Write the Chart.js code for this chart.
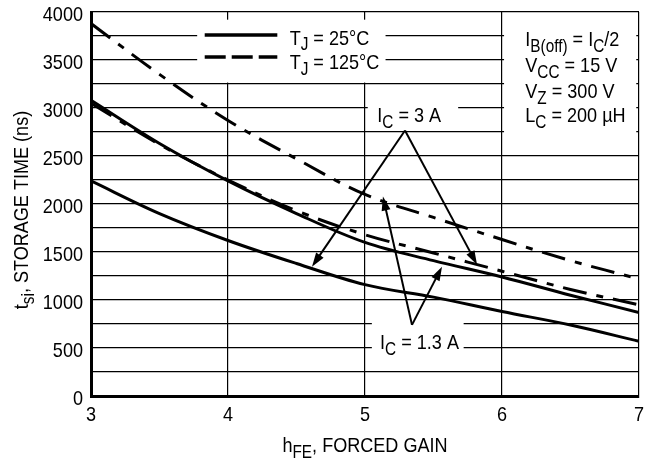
<!DOCTYPE html>
<html>
<head>
<meta charset="utf-8">
<script src="https://cdn.jsdelivr.net/npm/chart.js@4.4.1/dist/chart.umd.min.js"></script>
<style>
  body { margin: 0; background: #fff; }
  #c { display: block; }
</style>
</head>
<body>
<canvas id="c" width="658" height="462"></canvas>
<script>
// forced gain (x) and storage time in ns (y)
const gain = [3, 3.5, 4, 4.5, 5, 5.5, 6, 6.5, 7];
const ts13A125 = [3880, 3350, 2870, 2470, 2100, 1860, 1630, 1410, 1220];
const ts3A125 = [3050, 2620, 2250, 1930, 1680, 1490, 1300, 1110, 950];
const ts13A25 = [3080, 2630, 2240, 1900, 1600, 1410, 1240, 1050, 870];
const ts3A25 = [2240, 1900, 1620, 1380, 1160, 1030, 880, 740, 570];
const xTicks = [3, 4, 5, 6, 7];
const yTicks = [0, 500, 1000, 1500, 2000, 2500, 3000, 3500, 4000];

const FONT = "'Liberation Sans', Arial, sans-serif";
const FS = 21;        // font size
const SQ = 0.86;      // horizontal squeeze, the original type is a narrow face
const DASH = [24, 10, 7, 10];

function pts(ys) {
    return gain.map(function (g, i) { return { x: g, y: ys[i] }; });
}

function line(label, ys, dashed) {
    return {
        label: label,
        data: pts(ys),
        borderColor: '#000',
        borderWidth: 3,
        borderDash: dashed ? DASH : [],
        pointRadius: 0,
        tension: 0.35,
        fill: false
    };
}

// text with subscripts: parts = [[text, isSub], ...]
function rich(ctx, parts, x, y, align) {
    var w = 0;
    parts.forEach(function (p) {
        ctx.font = (p[1] ? FS * 0.85 : FS) + 'px ' + FONT;
        w += ctx.measureText(p[0]).width;
    });
    var start = 0;
    if (align === 'center') start = -w / 2;
    if (align === 'right') start = -w;
    ctx.save();
    ctx.translate(x, y);
    ctx.scale(SQ, 1);
    ctx.textAlign = 'left';
    ctx.textBaseline = 'alphabetic';
    parts.forEach(function (p) {
        ctx.font = (p[1] ? FS * 0.85 : FS) + 'px ' + FONT;
        ctx.fillText(p[0], start, p[1] ? FS * 0.27 : 0);
        start += ctx.measureText(p[0]).width;
    });
    ctx.restore();
}

function arrow(ctx, x1, y1, x2, y2) {
    var a = Math.atan2(y2 - y1, x2 - x1), L = 14, W = 4.5;
    ctx.beginPath();
    ctx.moveTo(x1, y1);
    ctx.lineTo(x2 - Math.cos(a) * L * 0.8, y2 - Math.sin(a) * L * 0.8);
    ctx.stroke();
    ctx.beginPath();
    ctx.moveTo(x2, y2);
    ctx.lineTo(x2 - Math.cos(a) * L - Math.sin(a) * W, y2 - Math.sin(a) * L + Math.cos(a) * W);
    ctx.lineTo(x2 - Math.cos(a) * L + Math.sin(a) * W, y2 - Math.sin(a) * L - Math.cos(a) * W);
    ctx.closePath();
    ctx.fill();
}

const notes = {
    id: 'notes',
    beforeDatasetsDraw: function (chart) {
        var ctx = chart.ctx, X = chart.scales.x, Y = chart.scales.y;
        var px = function (v) { return X.getPixelForValue(v); };
        var py = function (v) { return Y.getPixelForValue(v); };
        ctx.save();
        ctx.fillStyle = '#fff';
        // white boxes under legend and labels
        ctx.fillRect(px(3.775), py(3920), px(5.15) - px(3.775), py(3265) - py(3920));
        ctx.fillRect(px(6.015), py(3920), px(6.98) - px(6.015), py(2670) - py(3920));
        ctx.fillRect(px(5.02), py(3100), px(5.68) - px(5.02), py(2800) - py(3100));
        ctx.fillRect(px(5.05), py(830), px(5.72) - px(5.05), py(400) - py(830));
        ctx.restore();
    },
    afterDatasetsDraw: function (chart) {
        var ctx = chart.ctx, X = chart.scales.x, Y = chart.scales.y, a = chart.chartArea;
        var px = function (v) { return X.getPixelForValue(v); };
        var py = function (v) { return Y.getPixelForValue(v); };
        ctx.save();
        ctx.fillStyle = '#000';
        ctx.strokeStyle = '#000';

        // tick labels
        xTicks.forEach(function (t) {
            rich(ctx, [[String(t), 0]], px(t), a.bottom + 25, 'center');
        });
        yTicks.forEach(function (t) {
            rich(ctx, [[String(t), 0]], a.left - 8, py(t) + 8.5, 'right');
        });

        // legend
        ctx.lineWidth = 3.5;
        ctx.beginPath();
        ctx.moveTo(px(3.83), py(3760));
        ctx.lineTo(px(4.36), py(3760));
        ctx.stroke();
        ctx.setLineDash([21, 6]);
        ctx.beginPath();
        ctx.moveTo(px(3.83), py(3530));
        ctx.lineTo(px(4.36), py(3530));
        ctx.stroke();
        ctx.setLineDash([]);
        rich(ctx, [['T', 0], ['J', 1], [' = 25°C', 0]], px(4.45), py(3660));
        rich(ctx, [['T', 0], ['J', 1], [' = 125°C', 0]], px(4.45), py(3405));

        // test conditions
        var cx = px(6.17);
        rich(ctx, [['I', 0], ['B(off)', 1], [' = I', 0], ['C', 1], ['/2', 0]], cx, py(3645));
        rich(ctx, [['V', 0], ['CC', 1], [' = 15 V', 0]], cx, py(3375));
        rich(ctx, [['V', 0], ['Z', 1], [' = 300 V', 0]], cx, py(3105));
        rich(ctx, [['L', 0], ['C', 1], [' = 200 µH', 0]], cx, py(2850));

        // current labels
        rich(ctx, [['I', 0], ['C', 1], [' = 3 A', 0]], px(5.09), py(2850));
        rich(ctx, [['I', 0], ['C', 1], [' = 1.3 A', 0]], px(5.11), py(490));

        ctx.lineWidth = 2;
        arrow(ctx, px(5.292), py(2766), px(4.613), py(1347));
        arrow(ctx, px(5.292), py(2766), px(5.818), py(1367));
        arrow(ctx, px(5.343), py(741), px(5.131), py(2077));
        arrow(ctx, px(5.343), py(741), px(5.562), py(1347));

        // axis titles
        rich(ctx, [['h', 0], ['FE', 1], [', FORCED GAIN', 0]], (a.left + a.right) / 2, 452, 'center');
        ctx.translate(28, (a.top + a.bottom) / 2 + 6);
        ctx.rotate(-Math.PI / 2);
        rich(ctx, [['t', 0], ['si', 1], [', STORAGE TIME (ns)', 0]], 0, 0, 'center');
        ctx.restore();
    }
};

new Chart(document.getElementById('c'), {
    type: 'line',
    data: {
        datasets: [
            line('IC = 1.3 A, TJ = 125°C', ts13A125, true),
            line('IC = 3 A, TJ = 125°C', ts3A125, true),
            line('IC = 1.3 A, TJ = 25°C', ts13A25, false),
            line('IC = 3 A, TJ = 25°C', ts3A25, false)
        ]
    },
    options: {
        responsive: false,
        animation: false,
        layout: { padding: { left: 0, right: 19, top: 12, bottom: 0 } },
        plugins: { legend: { display: false }, tooltip: { enabled: false } },
        scales: {
            x: {
                type: 'linear',
                min: 3,
                max: 7,
                ticks: { stepSize: 1, color: 'rgba(0,0,0,0)', maxRotation: 0 },
                grid: { color: '#000', lineWidth: 1.2, drawTicks: false },
                border: { color: '#000', width: 3 },
                afterFit: function (s) { s.height = 66; }
            },
            y: {
                min: 0,
                max: 4000,
                ticks: { stepSize: 250, color: 'rgba(0,0,0,0)' },
                grid: { color: '#000', lineWidth: 1.2, drawTicks: false },
                border: { color: '#000', width: 3 },
                afterFit: function (s) { s.width = 91; }
            }
        }
    },
    plugins: [notes]
});
</script>
</body>
</html>
